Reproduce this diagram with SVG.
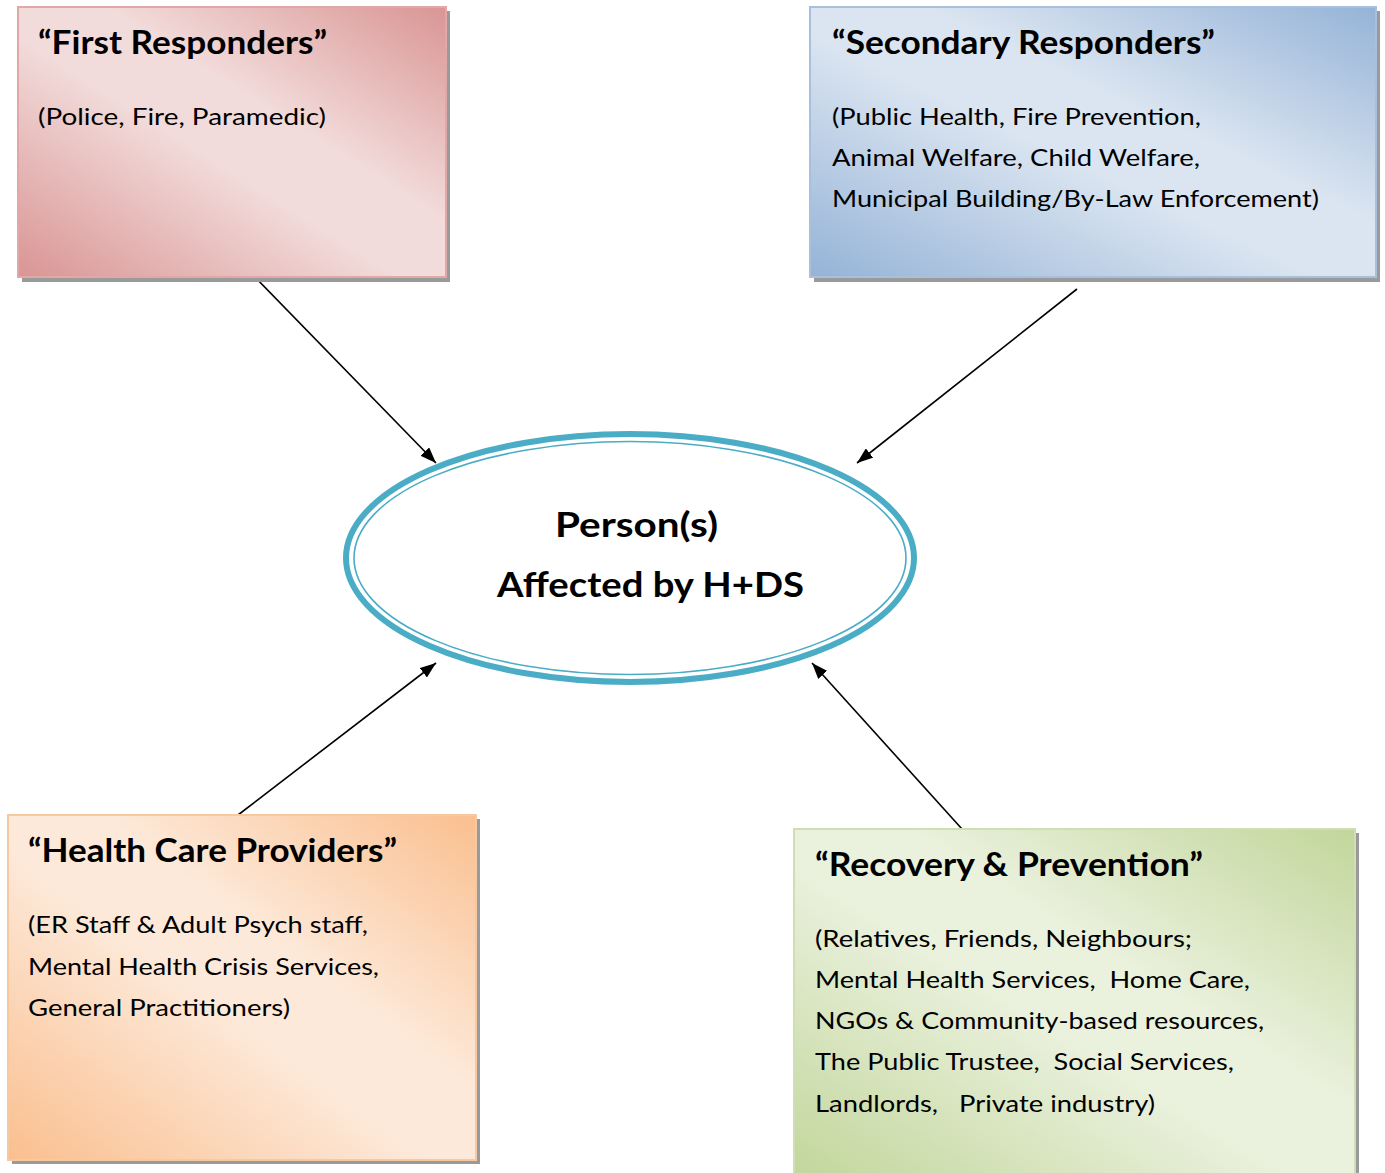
<svg xmlns="http://www.w3.org/2000/svg" width="1385" height="1173" viewBox="0 0 1385 1173">
<defs>
<style>
.t{font-family:Lato,"Liberation Sans",sans-serif;font-weight:bold;font-size:32px;fill:#000}
.b{font-family:Lato,"Liberation Sans",sans-serif;font-size:24px;fill:#000}
.c{font-family:Lato,"Liberation Sans",sans-serif;font-weight:bold;font-size:34px;fill:#000}
.sh{fill:#9a9a9a}
.ln{stroke:#000;stroke-width:1.6;fill:none}
</style>
<linearGradient id="gR" x1="0" y1="1" x2="1" y2="0"><stop offset="0" stop-color="#d99594"/><stop offset="0.45" stop-color="#f2dcdb"/><stop offset="0.6" stop-color="#f2dcdb"/><stop offset="1" stop-color="#d99594"/></linearGradient>
<linearGradient id="gB" x1="0" y1="1" x2="1" y2="0"><stop offset="0" stop-color="#95b3d7"/><stop offset="0.45" stop-color="#dbe5f1"/><stop offset="0.6" stop-color="#dbe5f1"/><stop offset="1" stop-color="#95b3d7"/></linearGradient>
<linearGradient id="gO" x1="0" y1="1" x2="1" y2="0"><stop offset="0" stop-color="#fabf8f"/><stop offset="0.45" stop-color="#fde9d9"/><stop offset="0.6" stop-color="#fde9d9"/><stop offset="1" stop-color="#fabf8f"/></linearGradient>
<linearGradient id="gG" x1="0" y1="1" x2="1" y2="0"><stop offset="0" stop-color="#c2d69b"/><stop offset="0.45" stop-color="#eaf1dd"/><stop offset="0.6" stop-color="#eaf1dd"/><stop offset="1" stop-color="#c2d69b"/></linearGradient>
<marker id="ah" viewBox="0 0 16 12" refX="16" refY="6" markerWidth="16" markerHeight="12" markerUnits="userSpaceOnUse" orient="auto"><path d="M0,0 L16,6 L0,12 z" fill="#000"/></marker>
</defs>
<rect width="1385" height="1173" fill="#fff"/>

<g id="connectors">
<line class="ln" x1="254" y1="276" x2="436" y2="463" marker-end="url(#ah)"/>
<line class="ln" x1="1077" y1="289" x2="857" y2="463" marker-end="url(#ah)"/>
<line class="ln" x1="238" y1="815" x2="436" y2="663" marker-end="url(#ah)"/>
<line class="ln" x1="962" y1="829" x2="812" y2="663" marker-end="url(#ah)"/>
</g>

<g id="first-responders">
<rect class="sh" x="22" y="11" width="428" height="271"/>
<rect x="18" y="7" width="428" height="270" fill="url(#gR)" stroke="#e0a9a8" stroke-width="2"/>
<text class="t" x="38" y="54" textLength="289" lengthAdjust="spacingAndGlyphs">“First Responders”</text>
<text class="b" x="38" y="125" textLength="288" lengthAdjust="spacingAndGlyphs">(Police, Fire, Paramedic)</text>
</g>

<g id="secondary-responders">
<rect class="sh" x="814" y="11" width="566" height="271"/>
<rect x="810" y="7" width="566" height="270" fill="url(#gB)" stroke="#a8c0de" stroke-width="2"/>
<text class="t" x="832" y="54" textLength="383" lengthAdjust="spacingAndGlyphs">“Secondary Responders”</text>
<text class="b" x="832" y="125" textLength="369" lengthAdjust="spacingAndGlyphs">(Public Health, Fire Prevention,</text>
<text class="b" x="832" y="166" textLength="368" lengthAdjust="spacingAndGlyphs">Animal Welfare, Child Welfare,</text>
<text class="b" x="832" y="207" textLength="487" lengthAdjust="spacingAndGlyphs">Municipal Building/By-Law Enforcement)</text>
</g>

<g id="health-care-providers">
<rect class="sh" x="12" y="819" width="468" height="345"/>
<rect x="8" y="815" width="468" height="345" fill="url(#gO)" stroke="#f7c9a3" stroke-width="2"/>
<text class="t" x="28" y="862" textLength="369" lengthAdjust="spacingAndGlyphs">“Health Care Providers”</text>
<text class="b" x="28" y="933" textLength="340" lengthAdjust="spacingAndGlyphs">(ER Staff &amp; Adult Psych staff,</text>
<text class="b" x="28" y="975" textLength="351" lengthAdjust="spacingAndGlyphs">Mental Health Crisis Services,</text>
<text class="b" x="28" y="1016" textLength="262" lengthAdjust="spacingAndGlyphs">General Practitioners)</text>
</g>

<g id="recovery-prevention">
<rect class="sh" x="798" y="833" width="561" height="345"/>
<rect x="794" y="829" width="561" height="350" fill="url(#gG)" stroke="#cfdfb3" stroke-width="2"/>
<text class="t" x="815" y="876" textLength="388" lengthAdjust="spacingAndGlyphs">“Recovery &amp; Prevention”</text>
<text class="b" x="815" y="947" textLength="377" lengthAdjust="spacingAndGlyphs">(Relatives, Friends, Neighbours;</text>
<text class="b" x="815" y="988" textLength="435" lengthAdjust="spacingAndGlyphs" xml:space="preserve">Mental Health Services,  Home Care,</text>
<text class="b" x="815" y="1029" textLength="449" lengthAdjust="spacingAndGlyphs">NGOs &amp; Community-based resources,</text>
<text class="b" x="815" y="1070" textLength="419" lengthAdjust="spacingAndGlyphs" xml:space="preserve">The Public Trustee,  Social Services,</text>
<text class="b" x="815" y="1112" textLength="340" lengthAdjust="spacingAndGlyphs" xml:space="preserve">Landlords,   Private industry)</text>
</g>

<g id="person">
<ellipse cx="630" cy="558" rx="284" ry="124" fill="#fff" stroke="#4bacc6" stroke-width="6"/>
<ellipse cx="630" cy="558" rx="276" ry="116.5" fill="none" stroke="#4bacc6" stroke-width="1.6"/>
<text class="c" x="555" y="537" textLength="163" lengthAdjust="spacingAndGlyphs">Person(s)</text>
<text class="c" x="497" y="597" textLength="307" lengthAdjust="spacingAndGlyphs">Affected by H+DS</text>
</g>
</svg>
